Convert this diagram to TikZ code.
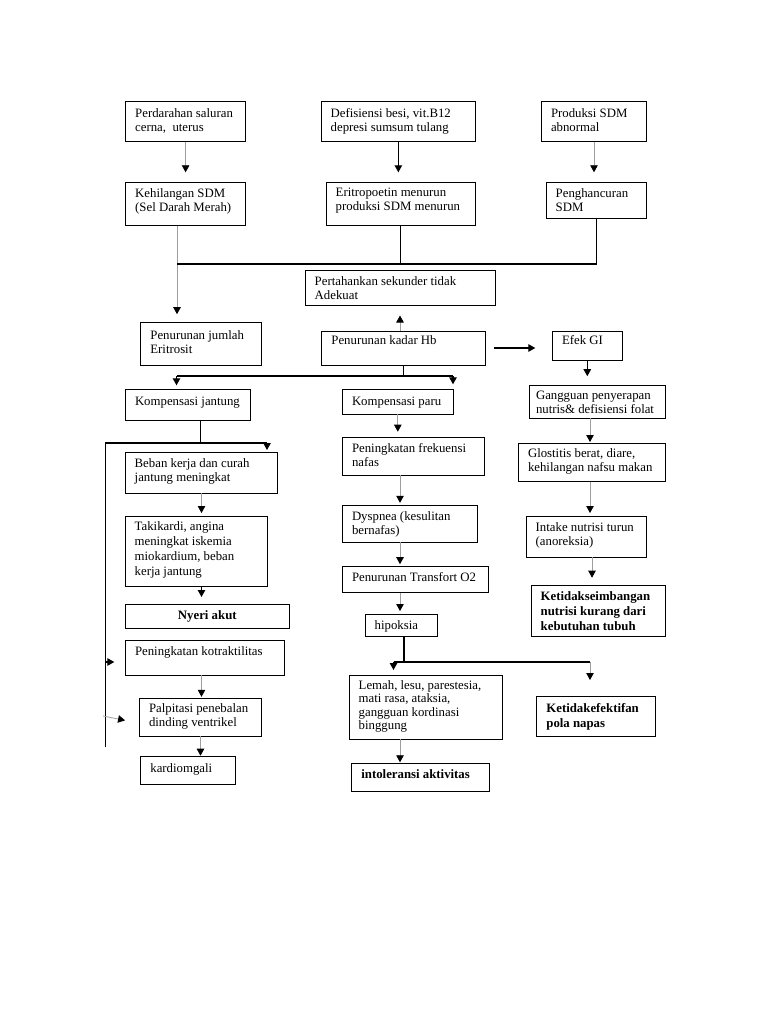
\documentclass[tikz,border=0pt]{standalone}
\usepackage{fontspec}
\setmainfont{Liberation Serif}
\usetikzlibrary{arrows.meta}
\tikzset{
  box/.style={draw=black, line width=1pt, inner sep=0pt, outer sep=0pt},
  txt/.style={inner sep=0pt, outer sep=0pt, align=left, font=\fontsize{12.8}{14}\selectfont},
  btxt/.style={txt, font=\fontsize{12.8}{15}\selectfont\bfseries},
  ln/.style={draw=black, line width=1.1pt},
  arr/.style={ln, -{Triangle[length=7pt,width=7.5pt]}},
  gl/.style={draw=black!38, line width=0.8pt},
  garr/.style={gl, -{Triangle[length=7pt,width=7.5pt,color=black]}},
}
% #1 text options, #2 name, #3 x1, #4 y1, #5 x2, #6 y2, #7 baseline offset, #8 text
\newcommand\mkbox[8][]{%
  \node[box, minimum width={#5-#3}, minimum height={#6-#4}] (#2) at ({(#3+#5)/2},{(#4+#6)/2}) {};
  \node[txt, anchor=north west, #1] (#2t) at ([xshift=9.7pt, yshift={(10-#7)*1pt}]#2.north west) {\rule{0pt}{10pt}#8};
}
\begin{document}
\begin{tikzpicture}[x=1pt, y=-1pt]
\fill[white] (0,0) rectangle (768,1024);
\useasboundingbox (0,0) rectangle (768,1024);

% top rows
\mkbox{p1}{125.5}{102}{245.7}{142}{16}{Perdarahan saluran\\cerna,\ \ uterus}
\mkbox{p2}{321}{102}{475.7}{142}{15.5}{Defisiensi besi, vit.B12\\depresi sumsum tulang}
\mkbox{p3}{541.3}{102}{646.7}{142}{15.5}{Produksi SDM\\abnormal}
\mkbox{keh}{125.5}{182.3}{245.7}{226}{15}{Kehilangan SDM\\(Sel Darah Merah)}
\mkbox{eri}{326}{182.3}{475.7}{226}{14.5}{Eritropoetin menurun\\produksi SDM menurun}
\mkbox{pen}{546}{182.3}{646.7}{218.3}{15}{Penghancuran\\SDM}

\mkbox{per}{305}{270.7}{495}{305}{15}{Pertahankan sekunder tidak\\Adekuat}
\mkbox{pjml}{140.7}{322.7}{261}{365}{16.5}{Penurunan jumlah\\Eritrosit}
\mkbox{hb}{321.7}{331}{485}{365}{13.5}{Penurunan kadar Hb}
\mkbox{efek}{552.3}{331}{622.3}{360.7}{13.5}{Efek GI}

% left column
\mkbox{kj}{125.3}{389.3}{250.7}{420}{16.5}{Kompensasi jantung}
\mkbox{beban}{125}{452}{277}{493}{15.5}{Beban kerja dan curah\\jantung meningkat}
\mkbox[font=\fontsize{12.8}{15}\selectfont]{taki}{125}{516}{267}{586}{14.5}{Takikardi, angina\\meningkat iskemia\\miokardium, beban\\kerja jantung}
\node[box, minimum width=164pt, minimum height=24.3pt] (nyeri) at (207.3,616.15) {};
\node[btxt, anchor=base] (nyerit) at ([yshift=-15.5pt]nyeri.north) {Nyeri akut};
\mkbox{kotr}{125.3}{640.7}{284.3}{675}{15}{Peningkatan kotraktilitas}
\mkbox{palp}{139.3}{698.3}{261}{736}{14.5}{Palpitasi penebalan\\dinding ventrikel}
\mkbox{kard}{140.7}{756.7}{235.7}{784}{16}{kardiomgali}

% center column
\mkbox{kp}{342.3}{389.3}{453.3}{414.3}{16.5}{Kompensasi paru}
\mkbox{pf}{342.3}{437.7}{484.3}{475}{15}{Peningkatan frekuensi\\nafas}
\mkbox{dys}{342.3}{505.3}{477}{542}{15}{Dyspnea (kesulitan\\bernafas)}
\mkbox{tr}{342.3}{566.7}{488.3}{592.7}{15}{Penurunan Transfort O2}
\mkbox{hip}{365}{614}{437.3}{636}{15}{hipoksia}
\mkbox[font=\fontsize{12.8}{13.5}\selectfont]{lemah}{349}{675}{502.3}{739.3}{14}{Lemah, lesu, parestesia,\\mati rasa, ataksia,\\gangguan kordinasi\\binggung}
\mkbox[btxt]{intol}{351.7}{763.3}{489}{791}{15.5}{intoleransi aktivitas}
\mkbox[btxt]{ketef}{536.7}{696.7}{655}{736}{15.5}{Ketidakefektifan\\pola napas}

% right column
\mkbox[xshift=-3pt]{gang}{529.3}{385.7}{665.7}{418.3}{14}{Gangguan penyerapan\\nutris\& defisiensi folat}
\mkbox{glos}{518.3}{443.3}{665}{481.7}{14}{Glostitis berat, diare,\\kehilangan nafsu makan}
\mkbox{intk}{526}{516}{646}{557}{15}{Intake nutrisi turun\\(anoreksia)}
\mkbox[btxt]{kseim}{531}{585.7}{665}{636}{15}{Ketidakseimbangan\\nutrisi kurang dari\\kebutuhan tubuh}

% helper coordinates
\coordinate (xL) at (177,0);
\coordinate (jL) at (177,264);
\coordinate (bL) at (176.5,376);
\coordinate (bR) at (453,376);
\coordinate (cL) at (105.5,443);
\coordinate (cM) at (200.5,443);
\coordinate (cR) at (267,443);
\coordinate (cB) at (105.5,747);
\coordinate (xK) at (201.5,0);
\coordinate (xC) at (400,0);
\coordinate (xH) at (404,0);
\coordinate (hL) at (393.5,662);
\coordinate (hR) at (590,662);
\coordinate (xR) at (590,0);
\coordinate (xR2) at (592,0);
\coordinate (kA) at (105.5,662);
\coordinate (pA) at (103,716);

% connectors: top
\draw[garr, shorten >=10pt] (p1.south) -- (p1.south |- keh.north);
\draw[arr, shorten >=10pt] (p2.south) -- (p2.south |- eri.north);
\draw[garr, shorten >=10pt] (p3.south) -- (p3.south |- pen.north);
\draw[garr, shorten >=8.5pt] (keh.south -| xL) -- (pjml.north -| xL);
\draw[ln] (eri.south) |- (jL);
\draw[ln] (pen.south) |- (jL);
\draw[garr, shorten >=10.5pt] (hb.north -| per.south) -- (per.south);
\draw[arr, shorten <=9pt, shorten >=17pt] (hb.east) -- (hb.east -| efek.west);
\draw[arr, shorten >=9.5pt] (efek.south) -- (efek.south |- gang.north);
\draw[ln] (hb.south) |- (bL);
\draw[ln] (hb.south) |- (bR);
\draw[arr, shorten >=4pt] (bL) -- (bL |- kj.north);
\draw[arr, shorten >=5pt] (bR) -- (bR |- kp.north);

% left column
\draw[ln] (kj.south -| cM) -- (cM);
\draw[ln] (cB) -- (cL) -- (cR);
\draw[arr, shorten >=2pt] (cR) -- (cR |- beban.north);
\draw[garr, shorten >=3pt] (beban.south -| xK) -- (taki.north -| xK);
\draw[arr, shorten >=7pt] (taki.south -| xK) -- (nyeri.north -| xK);
\draw[arr, shorten >=11pt] (kA) -- (kA -| kotr.west);
\draw[garr, shorten >=14.5pt] (pA) -- ([yshift=-6pt]palp.west);
\draw[garr, shorten >=1.5pt] (kotr.south -| xK) -- (palp.north -| xK);
\draw[garr, shorten >=1pt] (palp.south -| cM) -- (kard.north -| cM);

% center column
\draw[garr, shorten >=6pt] (kp.south) -- (kp.south |- pf.north);
\draw[garr, shorten >=2.5pt] (pf.south -| xC) -- (dys.north -| xC);
\draw[garr, shorten >=2.5pt] (dys.south -| xC) -- (tr.north -| xC);
\draw[garr, shorten >=3pt] (tr.south -| xC) -- (hip.north -| xC);
\draw[ln] (hip.south -| xH) |- (hL);
\draw[ln] (hL) -- (hR);
\draw[arr, shorten >=5pt] (hL) -- (hL |- lemah.north);
\draw[garr, shorten >=16.7pt] (hR) -- (hR |- ketef.north);
\draw[garr, shorten >=1pt] (lemah.south -| xC) -- (intol.north -| xC);

% right column
\draw[garr, shorten >=1.3pt] (gang.south -| xR) -- (glos.north -| xR);
\draw[garr, shorten >=3pt] (glos.south -| xR) -- (intk.north -| xR);
\draw[garr, shorten >=8pt] (intk.south -| xR2) -- (kseim.north -| xR2);
\end{tikzpicture}
\end{document}
